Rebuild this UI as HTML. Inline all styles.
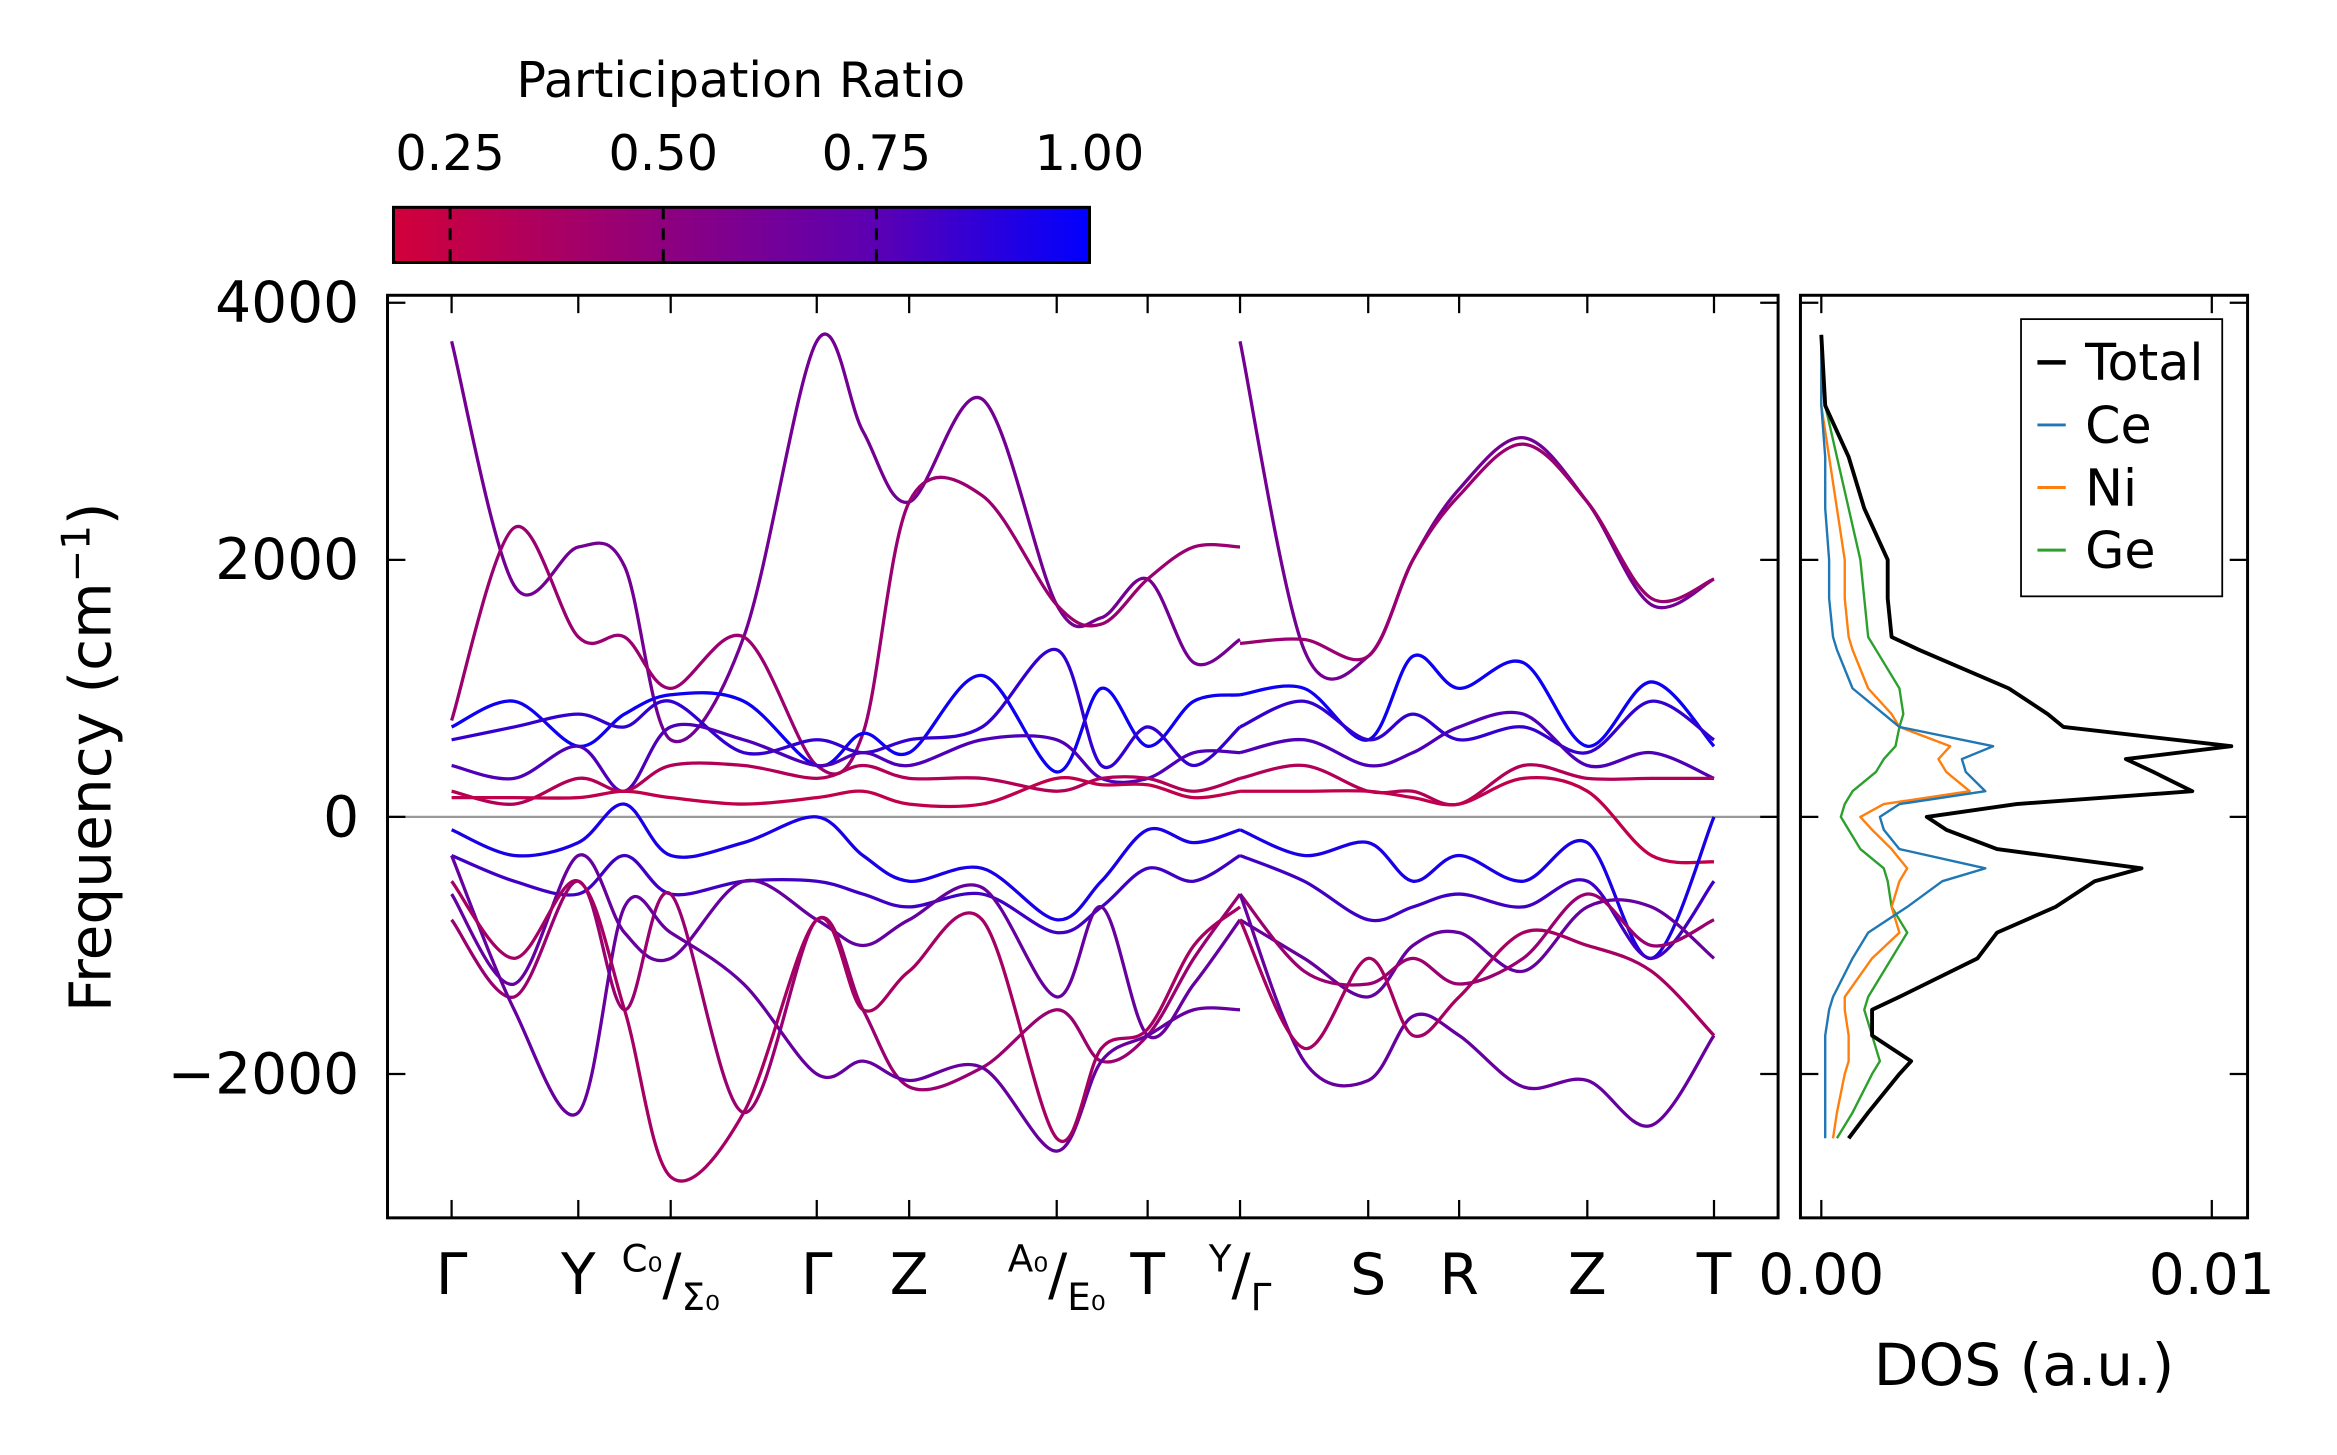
<!DOCTYPE html>
<html><head><meta charset="utf-8"><style>
html,body{margin:0;padding:0;background:#fff;}
svg{display:block;font-family:"DejaVu Sans","Liberation Sans",sans-serif;}
</style></head><body>
<svg id="chart" width="2337" height="1455" viewBox="0 0 1568 976" xmlns="http://www.w3.org/2000/svg">
<defs>
<linearGradient id="cmap" x1="0" x2="1" y1="0" y2="0">
<stop offset="0" stop-color="#d2003a"/><stop offset="0.4" stop-color="#8c0080"/><stop offset="0.7" stop-color="#5a00b4"/><stop offset="1" stop-color="#0000ff"/>
</linearGradient>
<clipPath id="clipMain"><rect x="260" y="198" width="933" height="619"/></clipPath>
<clipPath id="clipDos"><rect x="1208" y="198" width="300" height="619"/></clipPath>
</defs>
<g>
<text x="497" y="65" font-size="33" text-anchor="middle">Participation Ratio</text>
<rect x="264" y="139" width="467" height="37" fill="url(#cmap)" stroke="#000" stroke-width="2"/>
<g id="cbticks"></g>
</g>
<g id="main"></g>
<g id="dos"></g>
<text transform="translate(74,508) rotate(-90)" font-size="39" text-anchor="middle">Frequency (cm<tspan dy="-14" font-size="26">−1</tspan><tspan dy="14">)</tspan></text>
<text x="1358" y="929" font-size="39" text-anchor="middle">DOS (a.u.)</text>
<g>
<rect x="1356" y="214" width="135" height="186" fill="#fff" stroke="#000" stroke-width="1.2"/>
<line x1="1367" x2="1386" y1="243" y2="243" stroke="#000" stroke-width="3"/>
<text x="1399" y="255" font-size="34">Total</text>
<line x1="1367" x2="1386" y1="285" y2="285" stroke="#1f77b4" stroke-width="2"/>
<text x="1399" y="297" font-size="34">Ce</text>
<line x1="1367" x2="1386" y1="327" y2="327" stroke="#ff7f0e" stroke-width="2"/>
<text x="1399" y="339" font-size="34">Ni</text>
<line x1="1367" x2="1386" y1="369" y2="369" stroke="#2ca02c" stroke-width="2"/>
<text x="1399" y="381" font-size="34">Ge</text>
</g>
</svg>
<script>
// ---- data ----
const cbTicks = [0.25, 0.5, 0.75, 1.0];
const cbLabels = ["0.25", "0.50", "0.75", "1.00"];
const yTicks = [4000, 2000, 0, -2000];
const yTickLabels = ["4000", "2000", "0", "−2000"];
const kTickDist = [0, 85, 147, 245, 307, 406, 467, 529, 615, 676, 762, 847];
const kTickLabels = ["Γ", "Y", "C0/Σ0", "Γ", "Z", "A0/E0", "T", "Y/Γ", "S", "R", "Z", "T"];
const kSampleA = [0,42,85,116,147,196,245,276,307,356,406,436,467,498,529];
const kSampleB = [529,572,615,645,676,719,762,805,847];
const band1A = [3700,1800,2100,1950,600,1400,3700,3000,2450,3250,1650,1550,1850,1200,1380];
const band1B = [3700,1300,1250,2000,2550,2950,2450,1650,1850];
const band2A = [750,2250,1400,1400,1000,1400,400,650,2450,2500,1650,1500,1850,2100,2100];
const band2B = [1350,1380,1250,2000,2500,2900,2450,1700,1850];
const band3A = [700,900,550,800,950,900,400,650,500,1100,350,1000,550,900,950];
const band3B = [950,1000,600,1250,1000,1200,550,1050,550];
const band4A = [600,700,800,700,900,500,600,500,600,700,1300,400,700,400,700];
const band4B = [700,900,600,800,600,700,500,900,600];
const band5A = [400,300,550,200,700,600,400,500,400,600,600,300,300,500,500];
const band5B = [500,600,400,500,700,800,400,500,300];
const band6A = [200,100,300,200,400,400,300,400,300,300,200,300,300,200,300];
const band6B = [300,400,200,200,100,400,300,300,300];
const band7A = [150,150,150,200,150,100,150,200,100,100,300,250,250,150,200];
const band7B = [200,200,200,150,100,300,200,-300,-350];
const band8A = [-100,-300,-200,100,-300,-200,0,-300,-500,-400,-800,-500,-100,-200,-100];
const band8B = [-100,-300,-200,-500,-300,-500,-200,-1100,0];
const band9A = [-300,-500,-600,-300,-600,-500,-500,-600,-700,-600,-900,-700,-400,-500,-300];
const band9B = [-300,-500,-800,-700,-600,-700,-500,-1100,-500];
const band10A = [-600,-1300,-300,-900,-1100,-500,-800,-1000,-800,-550,-1400,-700,-1700,-1300,-800];
const band10B = [-800,-1100,-1400,-1000,-900,-1200,-700,-700,-1100];
const band11A = [-800,-1400,-500,-1500,-600,-2300,-800,-1500,-2100,-1950,-1500,-1900,-1700,-1100,-600];
const band11B = [-600,-1200,-1300,-1100,-1300,-1100,-600,-1000,-800];
const band12A = [-300,-1500,-2300,-700,-900,-1300,-2000,-1900,-2050,-1950,-2600,-1900,-1700,-1500,-1500];
const band12B = [-600,-1900,-2050,-1550,-1700,-2100,-2050,-2400,-1700];
const band13A = [-500,-1100,-500,-1500,-2800,-2300,-800,-1500,-1200,-800,-2500,-1800,-1650,-1000,-700];
const band13B = [-800,-1800,-1100,-1700,-1400,-900,-1000,-1200,-1700];
const bandsA = [band1A,band2A,band3A,band4A,band5A,band6A,band7A,band8A,band9A,band10A,band11A,band12A,band13A];
const bandsB = [band1B,band2B,band3B,band4B,band5B,band6B,band7B,band8B,band9B,band10B,band11B,band12B,band13B];
const bandPR = [0.55,0.4,0.95,0.8,0.7,0.3,0.25,0.9,0.75,0.6,0.4,0.6,0.35];
const dosFreq = [3750,3200,2800,2400,2000,1700,1400,1300,1000,800,700,550,450,350,200,100,0,-100,-250,-400,-500,-700,-900,-1100,-1400,-1500,-1700,-1900,-2000,-2300,-2500];
const dosTotal = [0,0.0001,0.0007,0.0011,0.0017,0.0017,0.0018,0.0025,0.0048,0.0058,0.0062,0.0105,0.0078,0.0085,0.0095,0.0050,0.0027,0.0032,0.0045,0.0082,0.0070,0.0060,0.0045,0.0040,0.0020,0.0013,0.0013,0.0023,0.0020,0.0012,0.0007];
const dosCe = [0,0,0.0001,0.0001,0.0002,0.0002,0.0003,0.0004,0.0008,0.0016,0.0020,0.0044,0.0036,0.0037,0.0042,0.0020,0.0015,0.0016,0.0020,0.0042,0.0031,0.0022,0.0012,0.0008,0.0003,0.0002,0.0001,0.0001,0.0001,0.0001,0.0001];
const dosNi = [0,0,0.0002,0.0004,0.0006,0.0006,0.0007,0.0008,0.0012,0.0018,0.0020,0.0033,0.0030,0.0032,0.0038,0.0016,0.0010,0.0013,0.0018,0.0022,0.0020,0.0018,0.0020,0.0013,0.0006,0.0006,0.0007,0.0007,0.0006,0.0004,0.0003];
const dosGe = [0,0.0001,0.0004,0.0007,0.0010,0.0011,0.0012,0.0014,0.0020,0.0021,0.0020,0.0019,0.0016,0.0014,0.0008,0.0006,0.0005,0.0007,0.0010,0.0016,0.0017,0.0018,0.0022,0.0018,0.0012,0.0011,0.0013,0.0015,0.0013,0.0008,0.0004];
// ---- scales ----
const NS = "http://www.w3.org/2000/svg";
const yS = v => 548 - v * 0.08625;
const xK = d => 303 + d;
const xD = v => 1222 + v * 26200;
const xCb = v => 302 + (v - 0.25) * 572;
function mk(tag, attrs, parent){const e=document.createElementNS(NS,tag);for(const k in attrs)e.setAttribute(k,attrs[k]);parent.appendChild(e);return e;}
function prColor(p){const t=Math.max(0,Math.min(1,(p-0.18)/0.82));const r=Math.round(210*(1-t)),g=0,b=Math.round(58+(255-58)*t);return `rgb(${r},${g},${b})`;}
function smooth(pts){let d=`M${pts[0][0]},${pts[0][1]}`;for(let i=0;i<pts.length-1;i++){const p0=pts[Math.max(0,i-1)],p1=pts[i],p2=pts[i+1],p3=pts[Math.min(pts.length-1,i+2)];d+=` C${p1[0]+(p2[0]-p0[0])/6},${p1[1]+(p2[1]-p0[1])/6} ${p2[0]-(p3[0]-p1[0])/6},${p2[1]-(p3[1]-p1[1])/6} ${p2[0]},${p2[1]}`;}return d;}
// colorbar ticks
const cbt=document.getElementById('cbticks');
cbTicks.forEach((v,i)=>{
 const l=mk('line',{x1:xCb(v),x2:xCb(v),y1:139,y2:176,stroke:'#000','stroke-width':2,'stroke-dasharray':v<1?'8,6':'0'},cbt);
 
 
 const t=mk('text',{x:xCb(v),y:114,'font-size':33,'text-anchor':'middle'},cbt);
 t.textContent=cbLabels[i];
 
 
});
// main plot
const main=document.getElementById('main');
const zl=mk('line',{x1:260,x2:1193,y1:yS(0),y2:yS(0),stroke:'#999','stroke-width':1.5},main);


const bg=mk('g',{'clip-path':'url(#clipMain)'},main);
bandsA.forEach((b,i)=>{
 const pts=b.map((v,j)=>[xK(kSampleA[j]),yS(v)]);
 const p=mk('path',{d:smooth(pts),fill:'none',stroke:prColor(bandPR[i]),'stroke-width':2.2},bg);
 
 
});
bandsB.forEach((b,i)=>{
 const pts=b.map((v,j)=>[xK(kSampleB[j]),yS(v)]);
 const p=mk('path',{d:smooth(pts),fill:'none',stroke:prColor(bandPR[i]),'stroke-width':2.2},bg);
 
 
});
const fr=mk('rect',{x:260,y:198,width:933,height:619,fill:'none',stroke:'#000','stroke-width':2},main);


kTickDist.forEach((d,i)=>{
 const x=xK(d);
 mk('line',{x1:x,x2:x,y1:817,y2:805,stroke:'#000','stroke-width':1.5},main);
 mk('line',{x1:x,x2:x,y1:198,y2:210,stroke:'#000','stroke-width':1.5},main);
 const lab=kTickLabels[i];
 const t=mk('text',{x:x,y:868,'font-size':38,'text-anchor':'middle'},main);
 
 
 if(lab.includes('/')){
  const [a,b]=lab.split('/');
  const fmt=s=>s.replace('0','₀');
  t.innerHTML=`<tspan font-size="25" dy="-15">${fmt(a)}</tspan><tspan dy="15">/</tspan><tspan font-size="25" dy="11">${fmt(b)}</tspan>`;
 } else t.textContent=lab;
});
yTicks.forEach((v,i)=>{
 const y=yS(v);
 mk('line',{x1:260,x2:272,y1:y,y2:y,stroke:'#000','stroke-width':1.5},main);
 mk('line',{x1:1193,x2:1181,y1:y,y2:y,stroke:'#000','stroke-width':1.5},main);
 mk('line',{x1:1208,x2:1220,y1:y,y2:y,stroke:'#000','stroke-width':1.5},main);
 mk('line',{x1:1508,x2:1496,y1:y,y2:y,stroke:'#000','stroke-width':1.5},main);
 const t=mk('text',{x:241,y:y+13,'font-size':38,'text-anchor':'end'},main);
 t.textContent=yTickLabels[i];
 
 
});
// DOS
const dos=document.getElementById('dos');
const dg=mk('g',{'clip-path':'url(#clipDos)'},dos);
[[dosGe,'#2ca02c',1.6,'dos-ge'],[dosNi,'#ff7f0e',1.6,'dos-ni'],[dosCe,'#1f77b4',1.6,'dos-ce'],[dosTotal,'#000',2.6,'dos-total']].forEach(([arr,c,w,n])=>{
 const pts=arr.map((v,j)=>`${xD(v)},${yS(dosFreq[j])}`).join(' ');
 const p=mk('polyline',{points:pts,fill:'none',stroke:c,'stroke-width':w,'stroke-linejoin':'round'},dg);
 
 
});
const df=mk('rect',{x:1208,y:198,width:300,height:619,fill:'none',stroke:'#000','stroke-width':2},dos);


[[0,'0.00'],[0.01,'0.01']].forEach(([v,l])=>{
 const x=xD(v);
 mk('line',{x1:x,x2:x,y1:817,y2:805,stroke:'#000','stroke-width':1.5},dos);
 mk('line',{x1:x,x2:x,y1:198,y2:210,stroke:'#000','stroke-width':1.5},dos);
 const t=mk('text',{x:x,y:868,'font-size':38,'text-anchor':'middle'},dos);
 t.textContent=l;
 
 
});
</script>
</body></html>
